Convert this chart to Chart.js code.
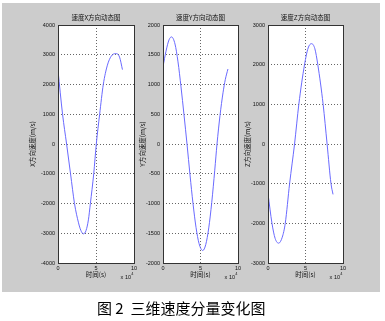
<!DOCTYPE html>
<html>
<head>
<meta charset="utf-8">
<script src="https://cdn.jsdelivr.net/npm/chart.js@4.4.1/dist/chart.umd.min.js"></script>
<style>
  html, body { margin:0; padding:0; background:#fff; }
  #page { position:relative; width:385px; height:321px; overflow:hidden; }
  #fig { position:absolute; left:2px; top:3px; width:378px; height:289px; background:#cccccc; }
  .pane { position:absolute; top:0; }
  #caption { position:absolute; left:97px; top:297px; font:15px 'Noto Sans CJK SC', sans-serif; color:#000; white-space:pre; }
</style>
</head>
<body>
<div id="page">
  <div id="fig"></div>
  <canvas id="cx" class="pane" width="140" height="292"></canvas>
  <canvas id="cy" class="pane" width="140" height="292"></canvas>
  <canvas id="cz" class="pane" width="140" height="292"></canvas>
  <div id="caption">图 2  三维速度分量变化图</div>
</div>
<script>
// time in units of 10^4 s
const timeX = [0, 0.6, 1.13, 1.65, 2.17, 2.7, 3.0, 3.35, 3.7, 4.0, 4.26, 4.7, 5.04, 5.48, 5.96, 6.5, 7.0, 7.6, 8.1, 8.48];
const velX  = [2480, 1000, 0, -1000, -2000, -2650, -2900, -3020, -2900, -2550, -2000, -1000, 0, 1000, 2000, 2650, 2950, 3040, 2920, 2500];

const timeY = [0, 0.4, 0.8, 1.14, 1.6, 2.0, 2.4, 2.8, 3.2, 3.6, 4.0, 4.4, 4.8, 5.3, 5.7, 6.1, 6.5, 6.9, 7.2, 7.6, 8.0, 8.3, 8.66];
const velY  = [1300, 1560, 1750, 1800, 1680, 1380, 960, 490, 0, -520, -1000, -1400, -1670, -1790, -1690, -1410, -980, -440, 0, 480, 860, 1080, 1260];

const timeZ = [0, 0.53, 0.95, 1.42, 1.9, 2.3, 2.88, 3.54, 4.11, 4.87, 5.35, 5.8, 6.25, 6.64, 7.35, 7.88, 8.4, 8.67];
const velZ  = [-1250, -2000, -2380, -2500, -2350, -2000, -1000, 0, 1000, 2000, 2420, 2530, 2400, 2000, 1000, 0, -1000, -1270];

const titles  = ['速度X方向动态图', '速度Y方向动态图', '速度Z方向动态图'];
const yLabels = ['X方向速度(m/s)', 'Y方向速度(m/s)', 'Z方向速度(m/s)'];
const yLimits = [[-4000, 4000, 1000], [-2000, 2000, 500], [-3000, 3000, 1000]];
const xTicks  = [0, 5, 10];
const xLabel  = '时间(s)';

const tickFont = { family: 'Liberation Sans, Arial, sans-serif', size: 5.5 };
const cjk = "'Noto Sans CJK SC', sans-serif";

// subplot frames in page pixels
const panes = [
  { id: 'cx', left: 58,  width: 76, ylabOff: 25, t: timeX, v: velX },
  { id: 'cy', left: 163, width: 75, ylabOff: 20, t: timeY, v: velY },
  { id: 'cz', left: 268, width: 75, ylabOff: 20, t: timeZ, v: velZ }
];
const plotTop = 25, plotBottom = 263, canvasH = 292, yAxisW = 57;

const frameText = {
  id: 'frameText',
  beforeDraw(chart) {
    const { ctx, chartArea: a } = chart;
    ctx.save();
    ctx.fillStyle = '#fff';
    ctx.fillRect(a.left, a.top, a.right - a.left, a.bottom - a.top);
    ctx.restore();
  },
  afterDraw(chart, args, o) {
    const { ctx, chartArea: a } = chart;
    ctx.save();
    ctx.strokeStyle = '#333';
    ctx.lineWidth = 1;
    ctx.strokeRect(Math.round(a.left) + 0.5, Math.round(a.top) + 0.5,
                   Math.round(a.right - a.left), Math.round(a.bottom - a.top));
    const cx = (a.left + a.right) / 2;
    ctx.fillStyle = '#111';
    ctx.textAlign = 'center';
    ctx.textBaseline = 'middle';
    ctx.font = '6.5px ' + cjk;
    ctx.fillText(o.title, cx, 18);
    ctx.fillText(xLabel, cx, 275);
    // x 10^4 multiplier
    ctx.font = '5.5px ' + tickFont.family;
    ctx.textAlign = 'right';
    ctx.fillText('x 10', a.right - 3, 277);
    ctx.font = '4px ' + tickFont.family;
    ctx.fillText('4', a.right - 0.5, 273.5);
    // rotated y label
    ctx.translate(a.left - o.ylabOff, (a.top + a.bottom) / 2);
    ctx.rotate(-Math.PI / 2);
    ctx.textAlign = 'center';
    ctx.font = '6.5px ' + cjk;
    ctx.fillText(o.ylabel, 0, 0);
    ctx.restore();
  }
};

panes.forEach((p, i) => {
  const cv = document.getElementById(p.id);
  cv.style.left = (p.left - yAxisW) + 'px';
  const [ymin, ymax, ystep] = yLimits[i];
  new Chart(cv, {
    type: 'line',
    data: {
      datasets: [{
        data: p.t.map((t, k) => ({ x: t, y: p.v[k] })),
        borderColor: '#6a6aff',
        borderWidth: 1,
        pointRadius: 0,
        cubicInterpolationMode: 'monotone',
        fill: false
      }]
    },
    options: {
      responsive: false,
      animation: false,
      layout: { padding: { left: 0, top: plotTop, right: 140 - yAxisW - p.width, bottom: 0 } },
      plugins: {
        legend: { display: false },
        tooltip: { enabled: false },
        frameText: { title: titles[i], ylabel: yLabels[i], ylabOff: p.ylabOff }
      },
      scales: {
        x: {
          type: 'linear', min: xTicks[0], max: xTicks[xTicks.length - 1],
          afterBuildTicks: s => { s.ticks = xTicks.map(v => ({ value: v })); },
          afterFit: s => { s.height = canvasH - plotBottom; },
          grid: { color: '#666', drawTicks: false },
          border: { display: false, dash: [1, 2] },
          ticks: { font: tickFont, color: '#111', padding: 2, maxRotation: 0, callback: v => String(v) }
        },
        y: {
          min: ymin, max: ymax,
          afterFit: s => { s.width = yAxisW; },
          grid: { color: '#666', drawTicks: false },
          border: { display: false, dash: [1, 2] },
          ticks: { stepSize: ystep, font: tickFont, color: '#111', padding: 3, callback: v => String(v) }
        }
      }
    },
    plugins: [frameText]
  });
});
</script>
</body>
</html>
